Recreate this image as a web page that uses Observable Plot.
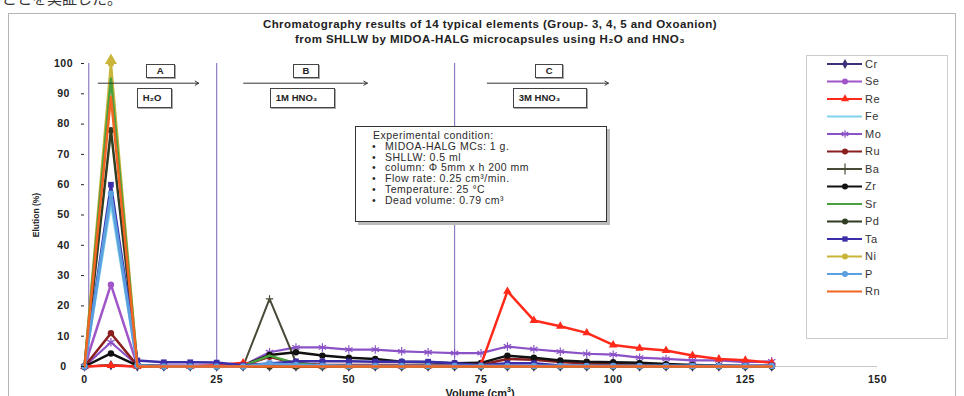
<!DOCTYPE html>
<html><head><meta charset="utf-8">
<script src="https://cdn.jsdelivr.net/npm/d3@7"></script>
<script src="https://cdn.jsdelivr.net/npm/@observablehq/plot@0.6"></script>
<style>
body{margin:0;background:#fff;}
#wrap{position:relative;width:964px;height:396px;overflow:hidden;font-family:"Liberation Sans",Arial,sans-serif;background:#fff;}
#wrap svg.main{position:absolute;left:0;top:0;}
.frame{position:absolute;left:8px;top:13px;width:948px;height:400px;border:1px solid #b5b5b5;box-sizing:border-box;}
.jp{position:absolute;left:2px;top:-13px;font-family:"Noto Sans CJK JP";font-size:15px;color:#333;white-space:nowrap;}
.title{position:absolute;left:0;width:980px;text-align:center;font-weight:bold;font-size:11.5px;letter-spacing:0.45px;color:#222;white-space:nowrap;}
.ylab{position:absolute;left:36px;top:215px;transform:translate(-50%,-50%) rotate(-90deg);font-size:8.5px;font-weight:bold;color:#222;white-space:nowrap;}
.xlab{position:absolute;left:480px;top:386px;transform:translateX(-50%);font-size:11px;font-weight:bold;color:#222;white-space:nowrap;}
.pbox{position:absolute;border:1.5px solid #444;background:#fff;box-shadow:1px 1px 0 #aaa;font-size:9.5px;font-weight:bold;color:#222;box-sizing:border-box;display:flex;align-items:center;}
.cond{position:absolute;left:355px;top:126px;width:252px;height:96px;border:1.2px solid #333;background:#fff;box-shadow:3px 3px 0 #bbb;box-sizing:border-box;padding:3px 0 0 17px;font-size:10.5px;letter-spacing:0.5px;line-height:10.8px;color:#2a2a2a;}
.cond div.b::before{content:"\2022";display:inline-block;width:13px;margin-left:-1px;}
.legend{position:absolute;left:806px;top:55px;width:142px;height:284px;border:1px solid #ccc;background:#fff;box-sizing:border-box;}
</style></head><body><div id="wrap"></div>
<script>
// ---- data ----
const volume = [0,5,10,15,20,25,30,35,40,45,50,55,60,65,70,75,80,85,90,95,100,105,110,115,120,125,130];
const elements = ["Cr","Se","Re","Fe","Mo","Ru","Ba","Zr","Sr","Pd","Ta","Ni","P","Rn"];
const Cr = [0,0.4,0,0,0,0,0,0,0,0,0,0,0,0,0,0,0,0,0,0,0,0,0,0,0,0,0];
const Se = [0,27,0.3,0.2,0.2,0.2,0.2,0.5,0.3,0.2,0.2,0.2,0.2,0.2,0.2,0.2,0.3,0.2,0.2,0.2,0.2,0.2,0.2,0.2,0.2,0.2,0.2];
const Re = [0,0.3,0,0,0,0.4,1.2,0.4,0.2,0.2,0.2,0.2,0.2,0.2,0.3,0.6,24.8,15.2,13.3,11.1,7.1,6.0,5.3,3.6,2.5,2.1,1.2];
const Fe = [0,54,0.3,0,0,0,0,0.8,0.3,0,0,0,0,0,0,0,0,0,0,0,0,0,0,0,0,0,0];
const Mo = [0,8,0.4,0.3,0.3,0.3,0.3,4.7,6.3,6.3,5.6,5.6,5.0,4.7,4.4,4.4,6.6,5.7,4.9,4.2,3.9,2.9,2.5,2.0,2.0,1.4,1.7];
const Ru = [0,11,0.3,0.1,0.1,0.1,0.3,3.2,1.0,0.6,0.5,0.5,0.5,0.4,0.4,0.6,2.5,2.2,1.5,1.0,0.8,0.6,0.5,0.3,0.2,0.1,0.1];
const Ba = [0,0.5,0,0,0,0,0,22.3,1.4,0.3,0.2,0.2,0.2,0.2,0.2,0.2,0.2,0.2,0.1,0.1,0.1,0.1,0.1,0.1,0.1,0.1,0.1];
const Zr = [0,4.3,0.3,0.1,0.1,0.1,0.3,3.8,4.7,3.6,2.9,2.5,1.6,1.4,1.1,1.2,3.6,2.9,2.0,1.6,1.4,1.2,0.8,0.5,0.3,0.2,0.1];
const Sr = [0,95,0.3,0,0,0,0.2,3.6,1.0,0.2,0,0,0,0,0,0,0,0,0,0,0,0,0,0,0,0,0];
const Pd = [0,78,0.3,0,0,0,0,0,0,0,0,0,0,0,0,0,0,0,0,0,0,0,0,0,0,0,0];
const Ta = [0,60,2.0,1.4,1.4,1.3,0.4,1.0,1.7,1.7,1.7,1.6,1.6,1.6,1.1,0.4,1.1,1.1,0.3,0.2,0.2,0.2,0.2,0.2,0.2,0.2,0.3];
const Ni = [0,100,0.3,0,0,0,0,0,0,0,0,0,0,0,0,0,0,0,0,0,0,0,0,0,0,0,0];
const P  = [0,57,0.3,0,0,0,0,0.9,0.5,0.3,0.2,0.2,0.2,0.2,0.2,0.2,0.2,0.2,0.2,0.2,0.2,0.2,0.2,0.2,0.2,0.2,0.2];
const Rn = [0,89,0,0,0,0,0,0,0,0,0,0,0,0,0,0,0,0,0,0,0,0,0,0,0,0,0];
const xTicks = [0,25,50,75,100,125,150];
const yTicks = [0,10,20,30,40,50,60,70,80,90,100];
const phaseBounds = [0.8,25,70];
const phaseLabels = ["A","B","C"];
const eluents = ["H\u2082O","1M HNO\u2083","3M HNO\u2083"];
const arrowFrom = [2.6,30.1,76.2];
const arrowTo = [21.6,53.5,99.1];
const labelAt = [14.4,42,88];
const eluentAt = [13.3,41.3,88.1];
const titleLines = ["Chromatography results of 14 typical elements (Group- 3, 4, 5 and Oxoanion)",
  "from SHLLW by MIDOA-HALG microcapsules using H\u2082O and HNO\u2083"];
const conditionTitle = "Experimental condition:";
const conditions = ["MIDOA-HALG MCs: 1 g.","SHLLW: 0.5 ml","column: \u03A6 5mm x h 200 mm","Flow rate: 0.25 cm\u00B3/min.","Temperature: 25 \u00B0C","Dead volume: 0.79 cm\u00B3"];

// ---- styles (not data) ----
const series = {Cr,Se,Re,Fe,Mo,Ru,Ba,Zr,Sr,Pd,Ta,Ni,P,Rn};
const look = {
  Cr:{c:"#3d2f7a",s:"diamond",w:2.2},
  Se:{c:"#a055c8",s:"circle",w:2.5},
  Re:{c:"#ff2a1a",s:"triangle",w:2.5},
  Fe:{c:"#7fd3ea",s:null,w:2.5},
  Mo:{c:"#8a52c6",s:"asterisk",w:2.2},
  Ru:{c:"#8b1e1e",s:"circle",w:2.5},
  Ba:{c:"#4a4a38",s:"plus",w:2},
  Zr:{c:"#111111",s:"circle",w:2.5},
  Sr:{c:"#4aa03f",s:null,w:2.5},
  Pd:{c:"#2f3d22",s:"circle",w:2.5},
  Ta:{c:"#3b2ea8",s:"square",w:2.5},
  Ni:{c:"#c9b53a",s:"circle",w:2.5},
  P:{c:"#5b9fe0",s:"circle",w:3},
  Rn:{c:"#f26522",s:null,w:2.5}
};
const drawOrder = ["Cr","Ni","Se","Fe","Mo","Ru","Ba","Zr","Re","Pd","Sr","Ta","P","Rn"];
const rows = elements.flatMap(el => series[el].map((v,i) => ({element:el, volume:volume[i], elution:v})));
const strokeSymbols = new Set(["asterisk","plus","times"]);

const marks = [
  Plot.ruleY([0], {stroke:"#c8c8c8", strokeWidth:1}),
  Plot.ruleX(phaseBounds, {stroke:"#8e7cc3", strokeWidth:1.2})
];
const niMaxIdx = Ni.indexOf(d3.max(Ni));
for (const el of drawOrder) {
  const d = rows.filter(r => r.element === el);
  const L = look[el];
  marks.push(Plot.line(d, {x:"volume", y:"elution", stroke:L.c, strokeWidth:L.w}));
  if (L.s) {
    if (strokeSymbols.has(L.s)) marks.push(Plot.dot(d, {x:"volume", y:"elution", symbol:()=>L.s, stroke:L.c, strokeWidth:1.2, r:el==="Ba"?2.5:4}));
    else marks.push(Plot.dot(d, {x:"volume", y:"elution", symbol:()=>L.s, fill:L.c, r:3.2}));
  }
  if (el === "Ni") {
    // off-scale arrow at Ni's maximum
    marks.push(Plot.dot([{volume:volume[niMaxIdx], elution:Ni[niMaxIdx]}], {x:"volume", y:"elution", symbol:"triangle", fill:L.c, r:4.5, dy:-3}));
  }
}
const phases = phaseLabels.map((l,i)=>({label:l, eluent:eluents[i], from:arrowFrom[i], to:arrowTo[i], at:labelAt[i], eat:eluentAt[i]}));
marks.push(Plot.arrow(phases, {x1:"from", x2:"to", y1:()=>93.5, y2:()=>93.5, stroke:"#333", strokeWidth:1, headLength:6, bend:0}));
marks.push(Plot.axisX({ticks:xTicks, tickSize:0, tickPadding:9, label:null, fontSize:10.5}));
marks.push(Plot.axisY({ticks:yTicks, tickSize:3, tickPadding:18, textAnchor:"middle", label:null, fontSize:10.5}));

const plot = Plot.plot({
  width:964, height:396,
  marginLeft:84, marginRight:87, marginTop:63, marginBottom:30,
  x:{domain:[0,150]},
  y:{domain:[0,100]},
  style:{fontFamily:"Liberation Sans, Arial, sans-serif", fontWeight:"bold", color:"#222", background:"transparent", letterSpacing:"0.5px"},
  marks
});
plot.classList.add("main");
const wrap = document.getElementById("wrap");

const jp = document.createElement("div"); jp.className="jp"; jp.textContent="ことを実証した。"; wrap.appendChild(jp);
const frame = document.createElement("div"); frame.className="frame"; wrap.appendChild(frame);
wrap.appendChild(plot);

titleLines.forEach((t,i)=>{
  const d = document.createElement("div"); d.className="title"; d.textContent=t;
  d.style.top = (18 + i*15) + "px"; wrap.appendChild(d);
});
const yl = document.createElement("div"); yl.className="ylab"; yl.textContent="Elution (%)"; wrap.appendChild(yl);
const xl = document.createElement("div"); xl.className="xlab"; xl.innerHTML="Volume (cm<sup style='font-size:7px'>3</sup>)"; wrap.appendChild(xl);

const sx = plot.scale("x"), sy = plot.scale("y");
const labelW = [29,26,28], eluW = [35,65,74];
phases.forEach((p,i)=>{
  const a = document.createElement("div"); a.className="pbox"; a.textContent=p.label;
  a.style.width=labelW[i]+"px"; a.style.height="14px"; a.style.justifyContent="center";
  a.style.left=(sx.apply(p.at)-labelW[i]/2)+"px"; a.style.top=(sy.apply(97.5)-7)+"px";
  wrap.appendChild(a);
  const e = document.createElement("div"); e.className="pbox"; e.textContent=p.eluent;
  e.style.width=eluW[i]+"px"; e.style.height="20px"; e.style.paddingLeft="5px";
  e.style.left=(sx.apply(p.eat)-eluW[i]/2)+"px"; e.style.top=(sy.apply(88.5)-10)+"px";
  wrap.appendChild(e);
});

const cond = document.createElement("div"); cond.className="cond";
const ct = document.createElement("div"); ct.textContent=conditionTitle; cond.appendChild(ct);
conditions.forEach(c=>{ const d=document.createElement("div"); d.className="b"; d.textContent=c; cond.appendChild(d); });
wrap.appendChild(cond);

// legend
const leg = document.createElement("div"); leg.className="legend"; wrap.appendChild(leg);
const lsvg = d3.select(wrap).append("svg").attr("width",964).attr("height",396).style("position","absolute").style("left",0).style("top",0);
const symMap = {diamond:d3.symbolDiamond, circle:d3.symbolCircle, triangle:d3.symbolTriangle, square:d3.symbolSquare, asterisk:d3.symbolAsterisk, plus:d3.symbolPlus};
elements.forEach((el,i)=>{
  const y = 64 + i*17.5, L = look[el];
  const g = lsvg.append("g");
  g.append("line").attr("x1",827).attr("x2",862).attr("y1",y).attr("y2",y).attr("stroke",L.c).attr("stroke-width",2);
  if (L.s) {
    const p = g.append("path").attr("d", d3.symbol(symMap[L.s], strokeSymbols.has(L.s)?40:28)()).attr("transform",`translate(845,${y})`);
    if (strokeSymbols.has(L.s)) p.attr("fill","none").attr("stroke",L.c).attr("stroke-width",1.2); else p.attr("fill",L.c);
  }
  g.append("text").attr("x",865).attr("y",y).attr("dy","0.35em").attr("font-size",11).attr("font-family","Liberation Sans, Arial").attr("letter-spacing","0.5px").attr("fill","#333").text(el);
});
</script></body></html>
